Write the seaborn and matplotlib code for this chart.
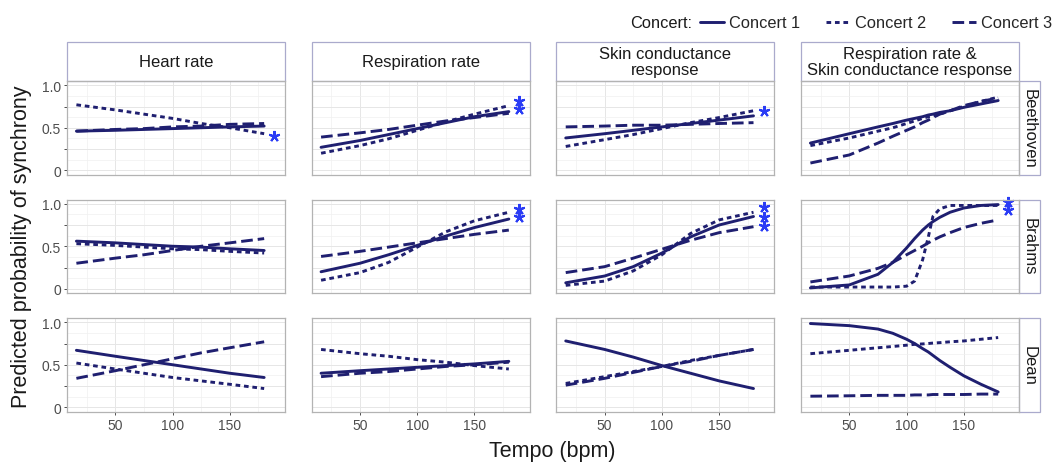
import matplotlib
matplotlib.use("Agg")
import matplotlib.pyplot as plt
from matplotlib.lines import Line2D
from matplotlib.patches import Rectangle
import numpy as np
import pandas as pd
import seaborn as sns

# data
pieces = ["Beethoven", "Brahms", "Dean"]
measures = ["hr", "resp", "scr", "combo"]
measure_titles = ["Heart rate", "Respiration rate", "Skin conductance\nresponse",
                  "Respiration rate &\nSkin conductance response"]
concerts = ["Concert 1", "Concert 2", "Concert 3"]

tempo = [16, 50, 75, 100, 125, 150, 180]
tempo_fine = [16, 50, 75, 88, 100, 107, 114, 119, 123, 129, 138, 150, 165, 180]

beethoven = {
    "hr": [[0.46, 0.47, 0.48, 0.49, 0.50, 0.51, 0.52],
           [0.77, 0.71, 0.66, 0.61, 0.55, 0.50, 0.43],
           [0.46, 0.48, 0.49, 0.51, 0.52, 0.54, 0.55]],
    "resp": [[0.27, 0.35, 0.42, 0.49, 0.56, 0.63, 0.69],
             [0.20, 0.29, 0.37, 0.47, 0.57, 0.66, 0.76],
             [0.39, 0.44, 0.48, 0.53, 0.58, 0.62, 0.67]],
    "scr": [[0.38, 0.43, 0.47, 0.51, 0.55, 0.59, 0.64],
            [0.28, 0.36, 0.42, 0.49, 0.56, 0.62, 0.70],
            [0.51, 0.52, 0.53, 0.53, 0.54, 0.55, 0.56]],
    "combo": [[0.32, 0.43, 0.51, 0.55, 0.59, 0.61, 0.63, 0.65, 0.66, 0.68, 0.70, 0.74, 0.78, 0.82],
              [0.29, 0.38, 0.46, 0.50, 0.55, 0.58, 0.61, 0.63, 0.64, 0.66, 0.70, 0.75, 0.81, 0.86],
              [0.085, 0.18, 0.32, 0.40, 0.47, 0.51, 0.56, 0.59, 0.62, 0.66, 0.70, 0.76, 0.81, 0.85]],
}
brahms = {
    "hr": [[0.56, 0.54, 0.52, 0.50, 0.49, 0.47, 0.45],
           [0.53, 0.51, 0.49, 0.47, 0.46, 0.44, 0.42],
           [0.30, 0.36, 0.40, 0.45, 0.50, 0.54, 0.59]],
    "resp": [[0.20, 0.30, 0.40, 0.51, 0.62, 0.72, 0.82],
             [0.10, 0.19, 0.31, 0.49, 0.67, 0.80, 0.90],
             [0.38, 0.44, 0.49, 0.54, 0.59, 0.64, 0.69]],
    "scr": [[0.07, 0.15, 0.26, 0.42, 0.61, 0.75, 0.85],
            [0.04, 0.09, 0.21, 0.40, 0.65, 0.81, 0.90],
            [0.19, 0.26, 0.36, 0.465, 0.57, 0.66, 0.73]],
    "combo": [[0.01, 0.045, 0.17, 0.31, 0.48, 0.59, 0.69, 0.75, 0.79, 0.84, 0.90, 0.95, 0.98, 0.99],
              [0.02, 0.02, 0.02, 0.02, 0.03, 0.09, 0.34, 0.61, 0.85, 0.94, 0.98, 0.98, 0.98, 0.98],
              [0.08, 0.15, 0.24, 0.31, 0.40, 0.45, 0.50, 0.54, 0.57, 0.61, 0.66, 0.72, 0.77, 0.81]],
}
dean = {
    "hr": [[0.67, 0.60, 0.55, 0.50, 0.45, 0.40, 0.35],
           [0.52, 0.45, 0.40, 0.35, 0.31, 0.27, 0.22],
           [0.34, 0.43, 0.50, 0.57, 0.64, 0.70, 0.77]],
    "resp": [[0.40, 0.43, 0.45, 0.47, 0.49, 0.51, 0.54],
             [0.68, 0.63, 0.60, 0.56, 0.53, 0.49, 0.45],
             [0.36, 0.40, 0.42, 0.45, 0.48, 0.50, 0.53]],
    "scr": [[0.78, 0.68, 0.59, 0.49, 0.40, 0.31, 0.22],
            [0.28, 0.36, 0.42, 0.48, 0.55, 0.61, 0.68],
            [0.26, 0.34, 0.41, 0.48, 0.54, 0.61, 0.68]],
    "combo": [[0.985, 0.96, 0.92, 0.87, 0.80, 0.75, 0.69, 0.65, 0.61, 0.55, 0.47, 0.37, 0.27, 0.18],
              [0.63, 0.67, 0.70, 0.715, 0.73, 0.74, 0.745, 0.75, 0.755, 0.76, 0.77, 0.78, 0.80, 0.82],
              [0.13, 0.135, 0.14, 0.14, 0.14, 0.145, 0.145, 0.145, 0.15, 0.15, 0.15, 0.15, 0.155, 0.155]],
}
piece_data = {"Beethoven": beethoven, "Brahms": brahms, "Dean": dean}

# significance stars (tempo, probability)
star_tempo = 189
stars = {
    ("Beethoven", "hr"): [0.40],
    ("Beethoven", "resp"): [0.82, 0.72],
    ("Beethoven", "scr"): [0.70],
    ("Brahms", "resp"): [0.94, 0.84],
    ("Brahms", "scr"): [0.96, 0.85, 0.74],
    ("Brahms", "combo"): [1.02, 0.93],
}

rows = []
for p in pieces:
    for m in measures:
        xs = tempo_fine if m == "combo" else tempo
        for c, vals in zip(concerts, piece_data[p][m]):
            for t, v in zip(xs, vals):
                rows.append((p, m, c, t, v))
df = pd.DataFrame(rows, columns=["Piece", "Measure", "Concert", "Tempo", "Prob"])

navy = "#1f1f70"
star_col = "#2a3cf5"
dash_map = {"Concert 1": "", "Concert 2": (1.6, 1.3), "Concert 3": (4.0, 1.7)}

sns.set_theme(style="white")
plt.rcParams["font.family"] = ["Liberation Sans", "DejaVu Sans"]

W, H = 1060, 464
fig = plt.figure(figsize=(W / 100, H / 100), dpi=100)

col_left = [67 + i * 244.67 for i in range(4)]
row_top = [82, 200.5, 319]
pw, ph = 218, 93.5
strip_h, strip_w = 39, 21
strip_edge = "#aaaacc"

for i, p in enumerate(pieces):
    for j, m in enumerate(measures):
        ax = fig.add_axes([col_left[j] / W, 1 - (row_top[i] + ph) / H, pw / W, ph / H])
        sub = df[(df.Piece == p) & (df.Measure == m)]
        sns.lineplot(data=sub, x="Tempo", y="Prob", style="Concert", dashes=dash_map,
                     color=navy, linewidth=2.1, ax=ax, legend=False, estimator=None)
        if (p, m) in stars:
            ys = stars[(p, m)]
            ax.plot([star_tempo] * len(ys), ys, linestyle="none", marker=(5, 2, 0),
                    markersize=8, markeredgewidth=1.5, color=star_col, clip_on=False)
        ax.set_xlim(7.8, 198.2)
        ax.set_ylim(-0.05, 1.05)
        ax.set_xticks([50, 100, 150])
        ax.set_xticks([25, 75, 125, 175], minor=True)
        ax.set_yticks([0, 0.25, 0.5, 0.75, 1.0])
        ax.set_yticks([0.125, 0.375, 0.625, 0.875], minor=True)
        ax.grid(which="major", color="#e6e6e6", linewidth=0.7)
        ax.grid(which="minor", color="#f0f0f0", linewidth=0.5)
        ax.set_axisbelow(True)
        for s in ax.spines.values():
            s.set_color("#b3b3b3")
            s.set_linewidth(0.9)
        ax.set_xlabel("")
        ax.set_ylabel("")
        ax.tick_params(which="minor", length=0)
        ax.tick_params(which="major", colors="#4d4d4d", labelsize=10, length=2.5,
                       width=0.7, pad=2)
        if j == 0:
            ax.set_yticklabels(["0", "", "0.5", "", "1.0"])
            ax.tick_params(axis="y", left=True)
        else:
            ax.tick_params(axis="y", left=False, labelleft=False)
        if i == 2:
            ax.set_xticklabels(["50", "100", "150"])
            ax.tick_params(axis="x", bottom=True)
        else:
            ax.tick_params(axis="x", bottom=False, labelbottom=False)
        if i == 0:
            ax.add_patch(Rectangle((0, 1), 1, strip_h / ph, transform=ax.transAxes,
                                   clip_on=False, facecolor="white", edgecolor=strip_edge,
                                   linewidth=0.9))
            ax.text(0.5, 1 + strip_h / ph / 2, measure_titles[j], transform=ax.transAxes,
                    ha="center", va="center", fontsize=12, color="#1a1a1a",
                    linespacing=1.05)
        if j == 3:
            ax.add_patch(Rectangle((1, 0), strip_w / pw, 1, transform=ax.transAxes,
                                   clip_on=False, facecolor="white", edgecolor=strip_edge,
                                   linewidth=0.9))
            ax.text(1 + strip_w / pw / 2, 0.5, p, transform=ax.transAxes, rotation=-90,
                    ha="center", va="center", fontsize=12, color="#1a1a1a")

fig.text(22 / W, 1 - 247 / H, "Predicted probability of synchrony", rotation=90,
         ha="center", va="center", fontsize=15.5, color="#1a1a1a")
fig.text(552 / W, 1 - 452 / H, "Tempo (bpm)", ha="center", va="center",
         fontsize=15.5, color="#1a1a1a")

handles = [Line2D([], [], color=navy, linewidth=2.1,
                  linestyle="-" if dash_map[c] == "" else (0, dash_map[c])) for c in concerts]
leg = fig.legend(handles, concerts, ncol=3, loc="center right",
                 bbox_to_anchor=(1052 / W, 1 - 24 / H), frameon=False, fontsize=11.8,
                 handlelength=1.45, handletextpad=0.3, columnspacing=1.6,
                 borderpad=0, borderaxespad=0)
fig.canvas.draw()
bb = leg.get_window_extent()
fig.text((bb.x0 - 8) / W, 1 - 24 / H, "Concert:", ha="right", va="center",
         fontsize=11.8, color="#1a1a1a")

fig.savefig("out.png", dpi=100)
